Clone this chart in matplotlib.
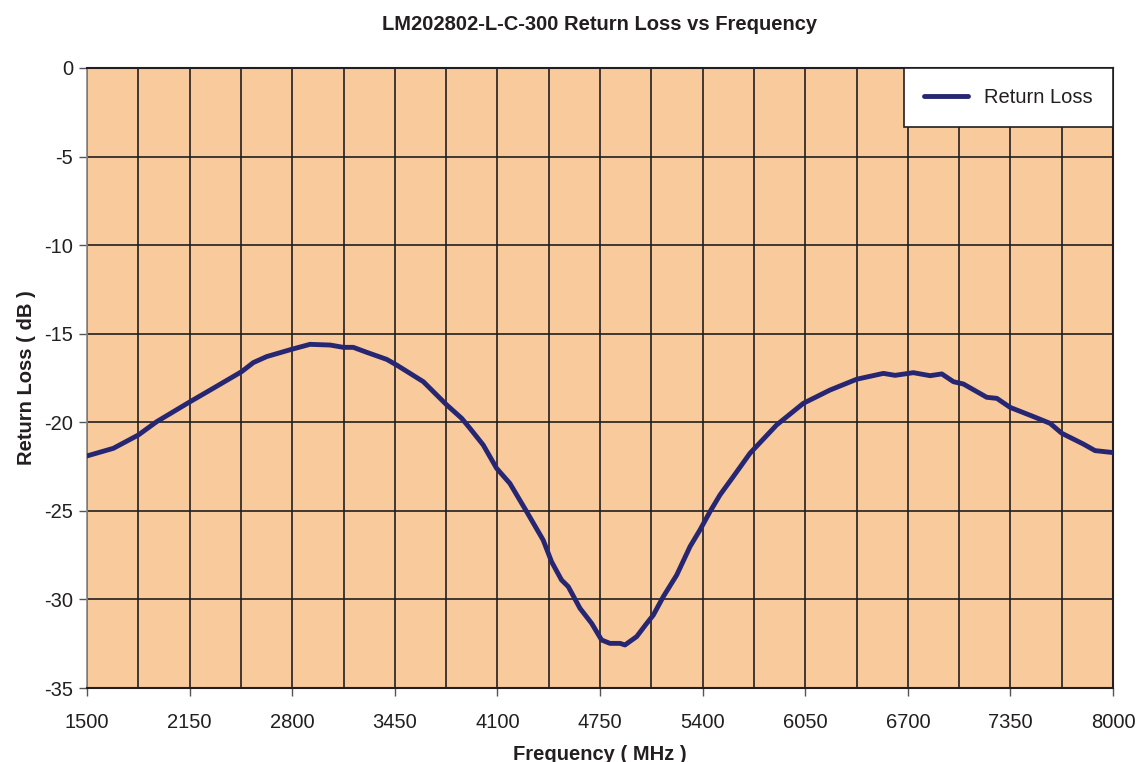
import matplotlib
matplotlib.use("Agg")
import matplotlib.pyplot as plt
from matplotlib.ticker import FixedLocator

plt.rcParams['font.family'] = ['Liberation Sans', 'DejaVu Sans']
plt.rcParams['axes.unicode_minus'] = False

# frequency (MHz) and return loss (dB)
freq = [1500, 1667, 1825, 1941, 2153, 2300, 2480, 2554, 2639, 2797, 2913,
        3040, 3124, 3187, 3272, 3399, 3462, 3631, 3694, 3779, 3874, 3926,
        4010, 4095, 4179, 4285, 4390, 4443, 4506, 4549, 4623, 4697, 4760,
        4813, 4877, 4908, 4982, 5046, 5088, 5151, 5236, 5320, 5383, 5447,
        5510, 5594, 5700, 5869, 6038, 6207, 6376, 6545, 6619, 6735, 6841,
        6915, 6989, 7052, 7200, 7264, 7348, 7496, 7601, 7675, 7812, 7886,
        8000]
return_loss = [-21.9, -21.47, -20.72, -19.97, -18.84, -18.08, -17.14, -16.63,
               -16.29, -15.88, -15.6, -15.64, -15.77, -15.77, -16.05, -16.45,
               -16.77, -17.71, -18.27, -19.02, -19.78, -20.34, -21.28, -22.6,
               -23.45, -25.04, -26.65, -27.87, -28.9, -29.28, -30.5, -31.35,
               -32.29, -32.48, -32.48, -32.57, -32.1, -31.35, -30.88, -29.84,
               -28.62, -27.02, -26.08, -25.04, -24.1, -23.07, -21.75, -20.15,
               -18.93, -18.18, -17.57, -17.24, -17.35, -17.2, -17.37, -17.27,
               -17.71, -17.84, -18.59, -18.65, -19.16, -19.68, -20.06, -20.62,
               -21.23, -21.6, -21.71]

x_ticks = [1500, 2150, 2800, 3450, 4100, 4750, 5400, 6050, 6700, 7350, 8000]
x_grid = [1825, 2475, 3125, 3775, 4425, 5075, 5725, 6375, 7025, 7675]
y_ticks = [0, -5, -10, -15, -20, -25, -30, -35]

fig = plt.figure(figsize=(11.43, 7.62), dpi=100)
ax = fig.add_axes([0.0761, 0.0971, 0.8977, 0.8137])
ax.set_facecolor('#F9CA9B')

ax.plot(freq, return_loss, color='#262673', lw=3.5, label='Return Loss',
        solid_capstyle='round', solid_joinstyle='round', zorder=3)

ax.set_xlim(1500, 8000)
ax.set_ylim(-35, 0)
ax.xaxis.set_major_locator(FixedLocator(x_ticks))
ax.xaxis.set_minor_locator(FixedLocator(x_grid))
ax.yaxis.set_major_locator(FixedLocator(y_ticks))
ax.grid(which='both', color='#231f20', lw=1.2)
ax.tick_params(which='major', direction='out', length=6, width=1,
               color='#555555', labelsize=14.5, labelcolor='#231f20', pad=12)
ax.tick_params(axis='y', pad=4)
ax.tick_params(which='minor', length=0)

for side in ['top', 'right', 'bottom']:
    ax.spines[side].set_color('#231f20')
    ax.spines[side].set_linewidth(1.5)
ax.spines['left'].set_color('#888888')
ax.spines['left'].set_linewidth(1.2)

ax.set_title('LM202802-L-C-300 Return Loss vs Frequency', fontsize=14.5,
             fontweight='bold', pad=27, color='#231f20')
ax.set_xlabel('Frequency ( MHz )', fontsize=14.5, fontweight='bold',
              labelpad=9, color='#231f20')
ax.set_ylabel('Return Loss ( dB )', fontsize=14.5, fontweight='bold',
              labelpad=6, color='#231f20')

leg = ax.legend(loc='upper right', borderaxespad=0, fontsize=14.5,
                fancybox=False, framealpha=1, edgecolor='#231f20',
                handlelength=2.2, borderpad=1.0)
leg.get_frame().set_linewidth(1.2)
for t in leg.get_texts():
    t.set_color('#231f20')

fig.savefig('out.png', dpi=100)
